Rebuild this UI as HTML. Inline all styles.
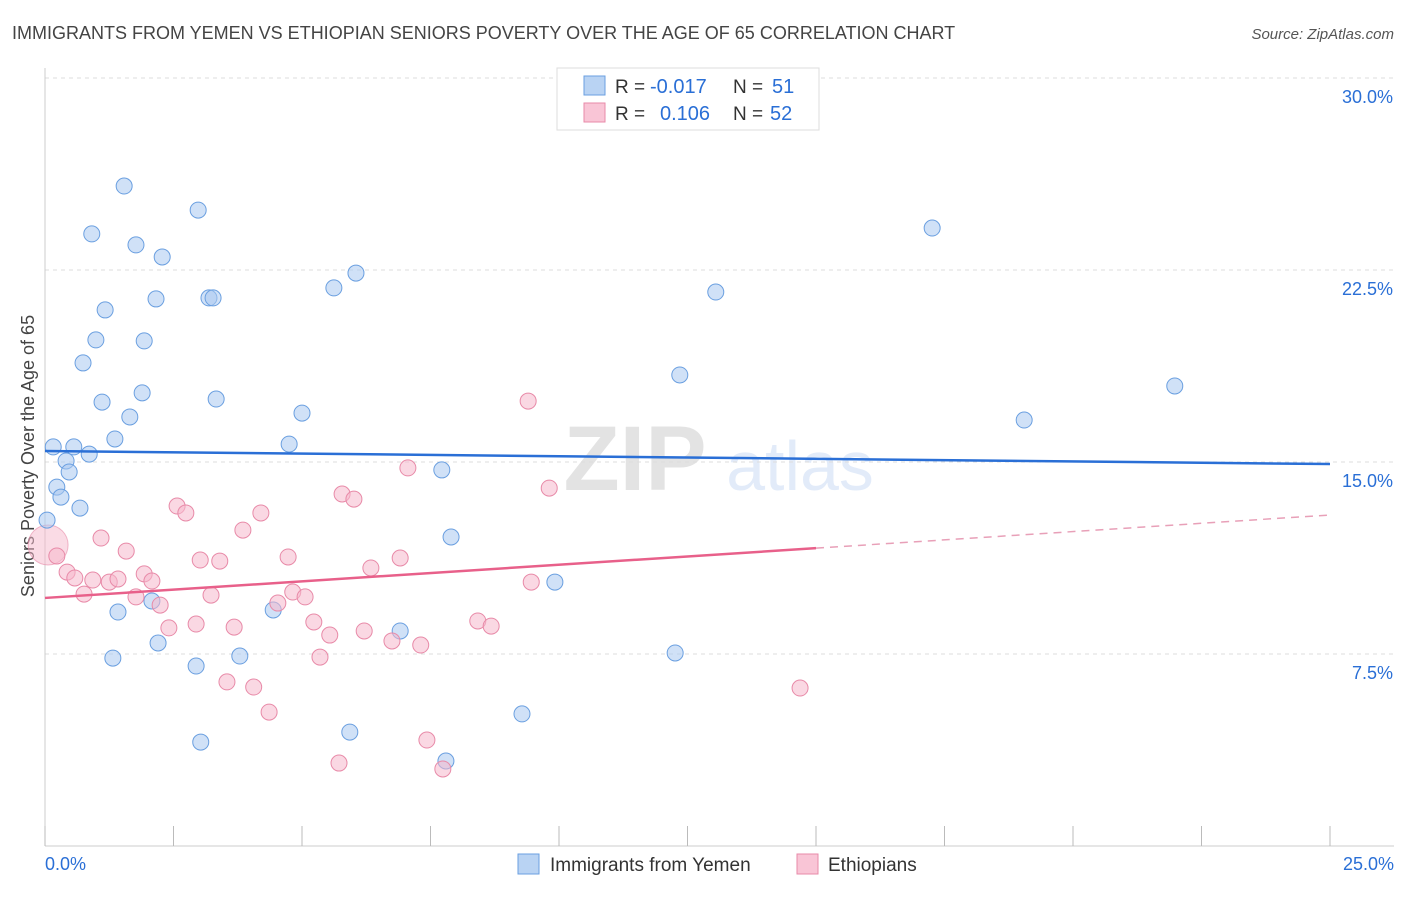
<!DOCTYPE html>
<html><head><meta charset="utf-8"><style>
body{margin:0;background:#fff;font-family:"Liberation Sans",sans-serif;}
svg text{font-family:"Liberation Sans",sans-serif;}
</style></head><body>
<svg id="chart" width="1406" height="892" viewBox="0 0 1406 892" xmlns="http://www.w3.org/2000/svg">
<text x="12" y="39" font-size="18" fill="#444">IMMIGRANTS FROM YEMEN VS ETHIOPIAN SENIORS POVERTY OVER THE AGE OF 65 CORRELATION CHART</text>
<text x="1394" y="39" font-size="15" fill="#555" text-anchor="end" font-style="italic">Source: ZipAtlas.com</text>
<text transform="translate(34,456) rotate(-90)" font-size="18" fill="#444" text-anchor="middle">Seniors Poverty Over the Age of 65</text>
<g opacity="0.13">
<text x="635" y="490" font-size="92" fill="#333" font-family="Liberation Serif" text-anchor="middle" font-weight="bold">ZIP</text>
<text x="800" y="490" font-size="70" fill="#2a6fd6" text-anchor="middle">atlas</text>
</g>
<g id="grid"></g>
<g id="axes"></g>
<g id="marks"></g>
<g>
<rect x="557" y="68" width="262" height="62" fill="#fff" stroke="#ddd"/>
<rect x="584" y="76" width="21" height="19" fill="#b9d3f3" stroke="#6a9fe0"/>
<rect x="584" y="103" width="21" height="19" fill="#f9c5d6" stroke="#e88aa8"/>
<text x="615" y="93" font-size="19" fill="#333">R =</text>
<text x="650" y="93" font-size="20" fill="#2a6fd6">-0.017</text>
<text x="733" y="93" font-size="19" fill="#333">N =</text>
<text x="772" y="93" font-size="20" fill="#2a6fd6">51</text>
<text x="615" y="120" font-size="19" fill="#333">R =</text>
<text x="660" y="120" font-size="20" fill="#2a6fd6">0.106</text>
<text x="733" y="120" font-size="19" fill="#333">N =</text>
<text x="770" y="120" font-size="20" fill="#2a6fd6">52</text>
</g>
<g>
<rect x="518" y="854" width="21" height="20" fill="#b9d3f3" stroke="#6a9fe0"/>
<text x="550" y="871" font-size="19" fill="#333">Immigrants from Yemen</text>
<rect x="797" y="854" width="21" height="20" fill="#f9c5d6" stroke="#e88aa8"/>
<text x="828" y="871" font-size="19" fill="#333">Ethiopians</text>
</g>
</svg>
<script>
const yTicks=[7.5,15,22.5,30];
const yTickLabels=["7.5%","15.0%","22.5%","30.0%"];
const xTickLabels=["0.0%","25.0%"];
const blueX=[1.54,2.98,0.91,1.77,2.28,6.05,5.62,2.16,3.19,3.27,1.17,0.99,1.93,0.74,1.89,1.11,3.33,1.65,5.00,1.36,0.16,0.56,0.86,4.75,0.41,0.47,7.72,0.23,0.31,0.68,0.04,7.90,9.92,2.08,1.42,4.44,6.91,2.20,1.32,3.79,2.94,12.26,9.28,5.93,3.03,7.80,12.35,13.05,17.26,19.05,21.98];
const blueY=[25.78,24.84,23.91,23.48,23.01,22.38,21.80,21.37,21.41,21.41,20.94,19.77,19.73,18.87,17.70,17.34,17.46,16.76,16.91,15.90,15.59,15.59,15.31,15.70,15.04,14.61,14.69,14.02,13.63,13.20,12.73,12.07,10.31,9.57,9.14,9.22,8.40,7.93,7.34,7.42,7.03,7.54,5.16,4.45,4.06,3.32,18.40,21.64,24.14,16.64,17.97];
const pinkX=[0.06,0.23,0.43,0.58,0.76,0.93,1.25,1.42,1.09,1.58,1.77,1.93,2.08,2.24,2.41,2.57,2.74,3.02,2.94,3.23,3.40,3.54,3.68,3.85,4.06,4.20,4.36,4.53,4.73,4.82,5.06,5.23,5.35,5.54,5.72,5.78,6.01,6.21,6.34,6.75,6.91,7.06,7.31,7.43,7.74,8.42,8.68,9.40,9.46,9.81,11.69,14.69];
const pinkY=[11.76,11.33,10.70,10.47,9.84,10.39,10.31,10.43,12.03,11.52,9.73,10.63,10.35,9.41,8.52,13.28,13.01,11.17,8.67,9.80,11.13,6.41,8.55,12.34,6.21,13.01,5.23,9.49,11.29,9.92,9.73,8.75,7.38,8.24,3.24,13.75,13.55,8.40,10.86,8.01,11.25,14.77,7.85,4.14,3.01,8.79,8.59,17.38,10.31,13.98,28.91,6.17];
const blueTrend=[15.43,14.92];
const pinkTrend=[9.69,12.93];
const pinkSolidEnd=15.0;

const NS="http://www.w3.org/2000/svg";
const X=v=>45+v/25*1285;
const Y=v=>846-v*25.6;
function mk(tag,attrs,parent){const e=document.createElementNS(NS,tag);for(const k in attrs)e.setAttribute(k,attrs[k]);parent.appendChild(e);return e;}
const grid=document.getElementById('grid'),axes=document.getElementById('axes'),marks=document.getElementById('marks');
yTicks.forEach((t,i)=>{
 const l=mk('line',{x1:45,x2:1394,y1:Y(t),y2:Y(t),stroke:'#ddd','stroke-dasharray':'4,4'},grid);
 
 
 const tx=mk('text',{x:1393,y:Y(t)+25,'font-size':18,fill:'#2a6fd6','text-anchor':'end'},axes);
 tx.textContent=yTickLabels[i];
 
 
});
const al=mk('line',{x1:45,x2:45,y1:68,y2:846,stroke:'#ccc'},axes);


const bl=mk('line',{x1:45,x2:1394,y1:846,y2:846,stroke:'#ccc'},axes);


for(let i=0;i<=10;i++){
 const t=mk('line',{x1:X(i*2.5),x2:X(i*2.5),y1:826,y2:846,stroke:'#bbb'},axes);
 
 
}
[[0,'start',45],[25,'end',1394]].forEach((p,i)=>{
 const tx=mk('text',{x:p[2],y:870,'font-size':18,fill:'#2a6fd6','text-anchor':p[1]},axes);
 tx.textContent=xTickLabels[i];
 
 
});
const big=mk('circle',{cx:X(pinkX[0]),cy:Y(pinkY[0]),r:20,fill:'#f5b8cc','fill-opacity':0.5,stroke:'#e88aa8','stroke-opacity':0.6},marks);


blueX.forEach((v,i)=>{
 const c=mk('circle',{cx:X(v),cy:Y(blueY[i]),r:8,fill:'#aac8f0','fill-opacity':0.55,stroke:'#6a9fe0','stroke-width':1},marks);
 
 
});
pinkX.forEach((v,i)=>{
 if(i===0)return;
 const c=mk('circle',{cx:X(v),cy:Y(pinkY[i]),r:8,fill:'#f5b8cc','fill-opacity':0.55,stroke:'#e88aa8','stroke-width':1},marks);
 
 
});
const bt=mk('line',{x1:X(0),y1:Y(blueTrend[0]),x2:X(25),y2:Y(blueTrend[1]),stroke:'#2a6fd6','stroke-width':2.5},marks);


const pm=pinkTrend[0]+(pinkTrend[1]-pinkTrend[0])*pinkSolidEnd/25;
const pt=mk('line',{x1:X(0),y1:Y(pinkTrend[0]),x2:X(pinkSolidEnd),y2:Y(pm),stroke:'#e8608a','stroke-width':2.5},marks);


const pd=mk('line',{x1:X(pinkSolidEnd),y1:Y(pm),x2:X(25),y2:Y(pinkTrend[1]),stroke:'#e8a0b8','stroke-width':1.5,'stroke-dasharray':'8,6'},marks);


</script>
</body></html>
